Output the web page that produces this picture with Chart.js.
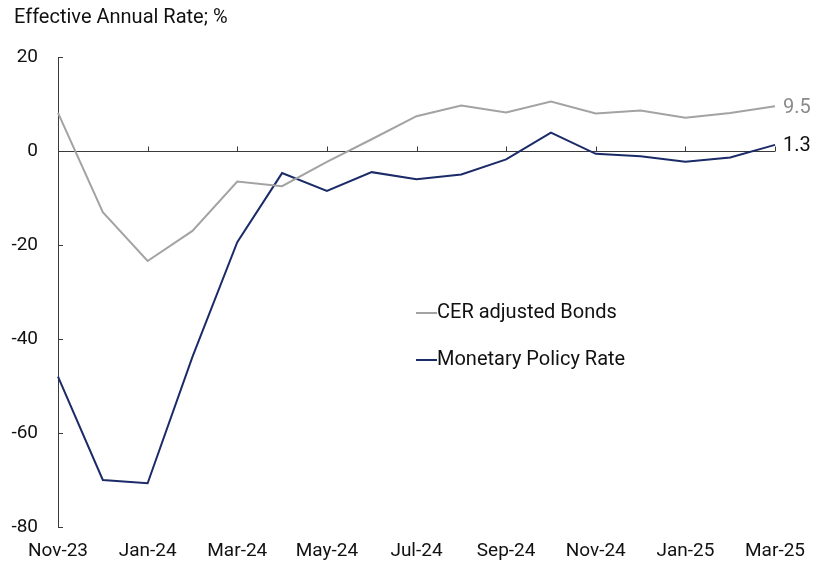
<!DOCTYPE html>
<html>
<head>
<meta charset="utf-8">
<script src="https://cdn.jsdelivr.net/npm/chart.js@4.4.1/dist/chart.umd.min.js"></script>
<style>
  html, body { margin: 0; padding: 0; background: #fff; }
  #wrap { width: 815px; height: 562px; }
</style>
</head>
<body>
<div id="wrap"><canvas id="chart" width="815" height="562"></canvas></div>
<script>
// meses, de nov-23 a mar-25
const meses = ['Nov-23', 'Dec-23', 'Jan-24', 'Feb-24', 'Mar-24', 'Apr-24', 'May-24', 'Jun-24', 'Jul-24',
  'Aug-24', 'Sep-24', 'Oct-24', 'Nov-24', 'Dec-24', 'Jan-25', 'Feb-25', 'Mar-25'];

// tasa efectiva anual, %
const bonosCER = [8.1, -13.0, -23.4, -17.0, -6.5, -7.5, -2.3, 2.5, 7.4, 9.7, 8.2, 10.5, 8.0, 8.6, 7.1, 8.1, 9.5];
const tasaPolitica = [-48.0, -70.0, -70.7, -43.8, -19.4, -4.7, -8.5, -4.5, -6.0, -5.0, -1.8, 3.9, -0.6, -1.1, -2.3, -1.4, 1.3];

const ticksY = [20, 0, -20, -40, -60, -80];

const FUENTE = 'Roboto, "Liberation Sans", sans-serif';
const GRIS = '#a3a3a3';
const AZUL = '#1b2b68';
const EJE = '#3a3a3a';

// dibuja titulo, marcas internas, etiquetas finales y leyenda
const extras = {
  id: 'extras',
  afterDraw(chart) {
    const ctx = chart.ctx;
    const x = chart.scales.x;
    const y = chart.scales.y;
    const area = chart.chartArea;
    ctx.save();

    // titulo
    ctx.fillStyle = '#111';
    ctx.font = '20px ' + FUENTE;
    ctx.textAlign = 'left';
    ctx.textBaseline = 'middle';
    ctx.fillText('Effective Annual Rate; %', 14, 18);

    // marcas del eje y hacia adentro
    ctx.strokeStyle = EJE;
    ctx.lineWidth = 1;
    ticksY.forEach(v => {
      const py = Math.round(y.getPixelForValue(v)) + 0.5;
      ctx.beginPath();
      ctx.moveTo(area.left, py);
      ctx.lineTo(area.left + 5, py);
      ctx.stroke();
    });

    // marcas sobre la linea del cero
    const y0 = Math.round(y.getPixelForValue(0)) + 0.5;
    meses.forEach((m, i) => {
      if (i % 2 !== 0 || i === 0) return;
      const px = Math.round(x.getPixelForValue(i)) + 0.5;
      ctx.beginPath();
      ctx.moveTo(px, y0);
      ctx.lineTo(px, y0 - 5);
      ctx.stroke();
    });

    // valores al final de cada serie
    const ult = meses.length - 1;
    ctx.textAlign = 'left';
    ctx.font = '20px ' + FUENTE;
    ctx.fillStyle = '#8a8a8a';
    ctx.fillText(bonosCER[ult].toFixed(1), x.getPixelForValue(ult) + 8, y.getPixelForValue(bonosCER[ult]) + 2);
    ctx.fillStyle = '#111';
    ctx.fillText(tasaPolitica[ult].toFixed(1), x.getPixelForValue(ult) + 8, y.getPixelForValue(tasaPolitica[ult]) + 1);

    // leyenda
    const lx = 416;
    [[0, 313], [1, 360]].forEach(([i, ly]) => {
      const ds = chart.data.datasets[i];
      ctx.strokeStyle = ds.borderColor;
      ctx.lineWidth = 2;
      ctx.beginPath();
      ctx.moveTo(lx, ly);
      ctx.lineTo(lx + 21, ly);
      ctx.stroke();
      ctx.fillStyle = '#111';
      ctx.fillText(ds.label, lx + 21, ly);
    });

    ctx.restore();
  }
};

new Chart(document.getElementById('chart'), {
  type: 'line',
  data: {
    labels: meses,
    datasets: [
      { label: 'CER adjusted Bonds', data: bonosCER, borderColor: GRIS, borderWidth: 2, pointRadius: 0, tension: 0 },
      { label: 'Monetary Policy Rate', data: tasaPolitica, borderColor: AZUL, borderWidth: 2, pointRadius: 0, tension: 0 }
    ]
  },
  options: {
    responsive: false,
    animation: false,
    layout: { padding: { top: 57, right: 40, left: 0, bottom: 0 } },
    plugins: { legend: { display: false }, tooltip: { enabled: false } },
    scales: {
      x: {
        type: 'category',
        offset: false,
        grid: { display: false, drawTicks: false },
        border: { display: false },
        afterFit(s) { s.height = 35; s.paddingLeft = 0; s.paddingRight = 0; },
        ticks: {
          autoSkip: false,
          maxRotation: 0,
          padding: 13,
          color: '#111',
          font: { family: FUENTE, size: 19 },
          callback: (v, i) => (i % 2 === 0 ? meses[i] : '')
        }
      },
      y: {
        min: -80,
        max: 20,
        afterFit(s) { s.width = 58; s.paddingTop = 0; s.paddingBottom = 0; },
        afterBuildTicks(s) { s.ticks = ticksY.map(v => ({ value: v })); },
        border: { display: true, color: EJE, width: 1 },
        grid: {
          drawTicks: false,
          color: c => (c.tick && c.tick.value === 0 ? EJE : 'rgba(0,0,0,0)'),
          lineWidth: 1
        },
        ticks: {
          padding: 20,
          color: '#111',
          font: { family: FUENTE, size: 19 }
        }
      }
    }
  },
  plugins: [extras]
});
</script>
</body>
</html>
